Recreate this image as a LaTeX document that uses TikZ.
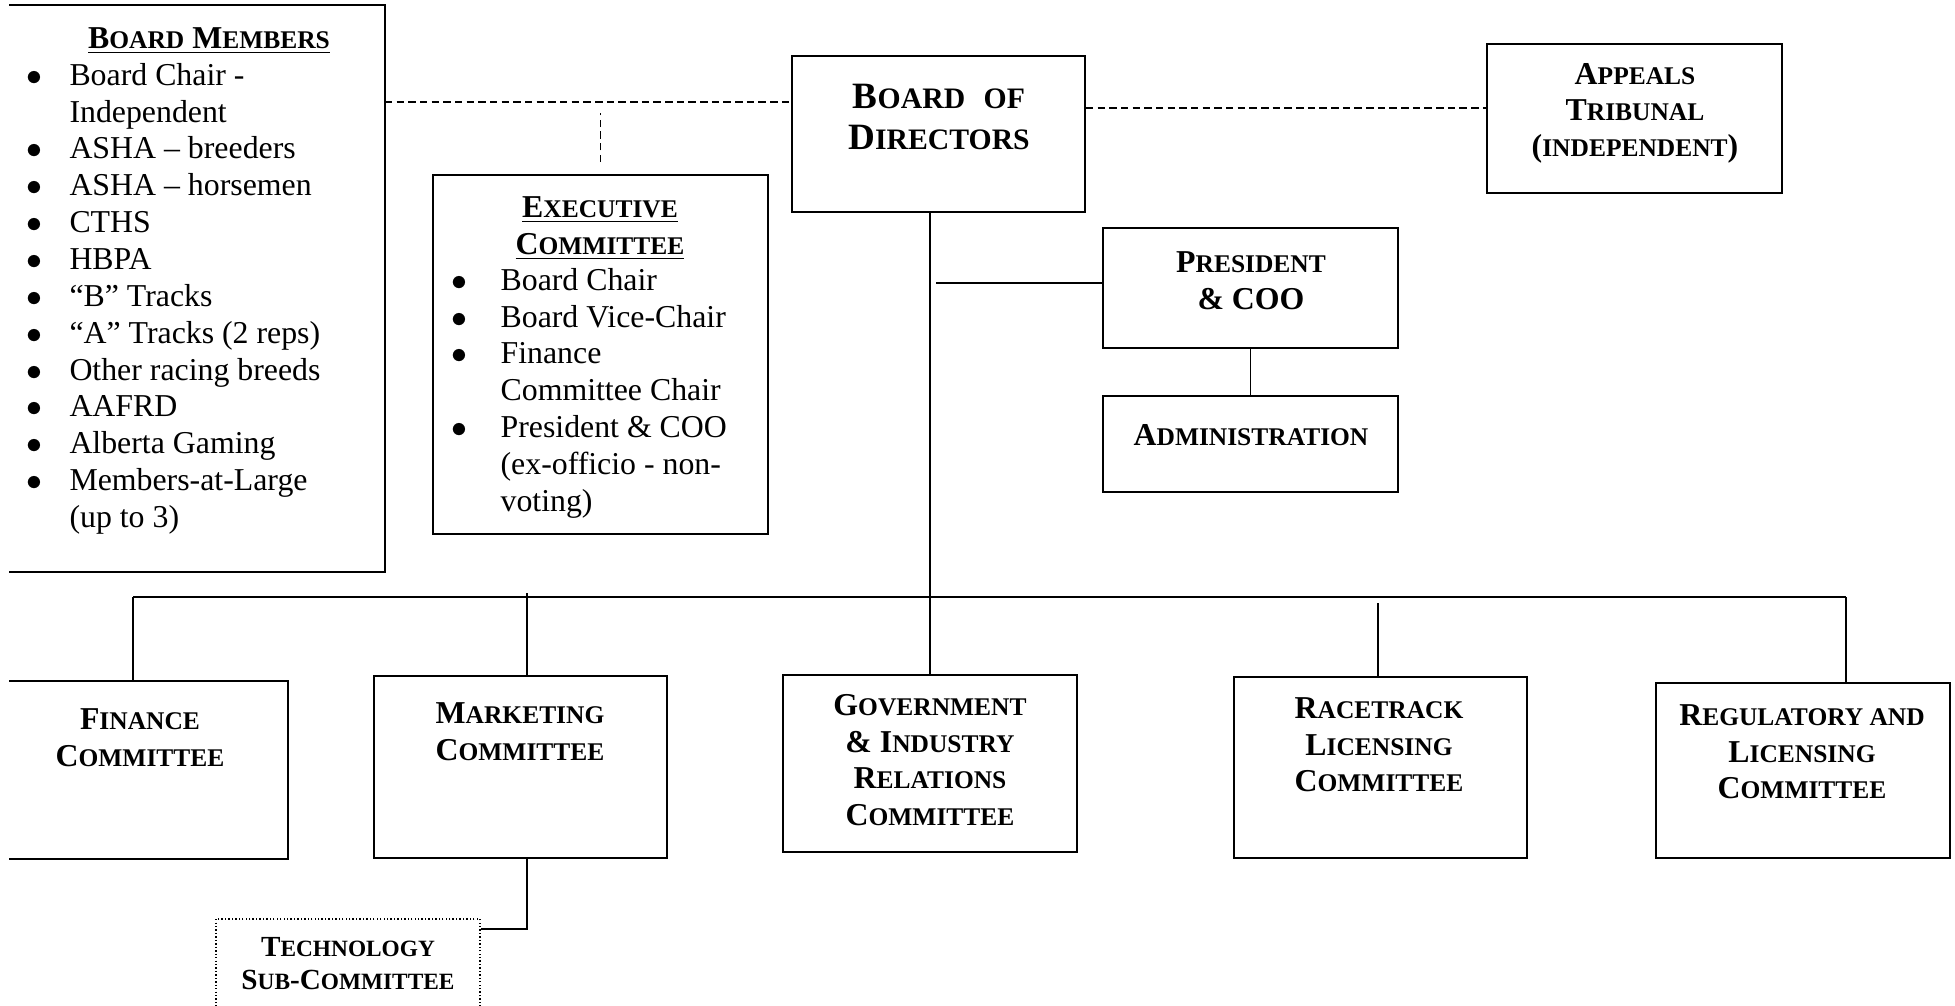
\documentclass[tikz,border=0pt]{standalone}
\usepackage{fontspec}
\setmainfont{Liberation Serif}

\makeatletter
\newcommand\lc[1]{{\fontsize{\strip@pt\dimexpr0.8\dimexpr\f@size pt\relax\relax}{\f@baselineskip}\selectfont#1}}
\makeatother
\newcommand\stk[1]{\begin{tabular}{@{}c@{}}#1\end{tabular}}
\newdimen\pxu \pxu=0.377pt

\begin{document}
\begin{tikzpicture}[x=0.377pt,y=-0.377pt,
    box/.style 2 args={draw,line width=0.75pt,inner sep=0pt,minimum width=#1*\pxu,minimum height=#2*\pxu},
    lbl/.style={inner sep=0pt,anchor=north,font=\fontsize{12}{13.9}\selectfont\bfseries},
    lst/.style={inner sep=0pt,anchor=north west,font=\fontsize{12}{13.9}\selectfont},
    wire/.style={line width=0.6pt},
    dashline/.style={line width=0.6pt,dash pattern=on 2.8pt off 1.6pt},
    dotbox/.style={line width=0.6pt,dash pattern=on 0.5pt off 0.8pt}]
\useasboundingbox (0,0) rectangle (1955,1005);

\node[box={374}{565},draw=none] (bm) at (197,288.5) {};
\draw[line width=0.75pt] (bm.north west) -- (bm.north east) -- (bm.south east) -- (bm.south west);
\node[lbl] (bmhead) at (209,21.8) {\stk{\underline{B\lc{OARD} M\lc{EMBERS}}}};
\node[lst] (bmlist) at (26,58.8) {\begin{tabular}{@{}p{16.2pt}@{}l@{}}
$\bullet$ & Board Chair - \\
 & Independent \\
$\bullet$ & ASHA -- breeders \\
$\bullet$ & ASHA -- horsemen \\
$\bullet$ & CTHS \\
$\bullet$ & HBPA \\
$\bullet$ & ``B'' Tracks \\
$\bullet$ & ``A'' Tracks (2 reps) \\
$\bullet$ & Other racing breeds \\
$\bullet$ & AAFRD \\
$\bullet$ & Alberta Gaming \\
$\bullet$ & Members-at-Large \\
 & (up to 3)
\end{tabular}};

\node[box={335}{359}] (exec) at (600.5,354.5) {};
\node[lbl] (exechead) at (600,190.8) {\stk{\underline{E\lc{XECUTIVE}}\\\underline{C\lc{OMMITTEE}}}};
\node[lst] (execlist) at (451,263.8) {\begin{tabular}{@{}p{18.5pt}@{}l@{}}
$\bullet$ & Board Chair \\
$\bullet$ & Board Vice-Chair \\
$\bullet$ & Finance \\
 & Committee Chair \\
$\bullet$ & President \& COO \\
 & (ex-officio - non- \\
 & voting)
\end{tabular}};

\node[box={293}{156}] (bod) at (938.5,134) {};
\node[lbl,font=\fontsize{14}{15.5}\selectfont\bfseries] (bodtxt) at (939,79.5) {\stk{B\lc{OARD}\ \ \lc{OF}\\D\lc{IRECTORS}}};

\node[box={295}{149}] (appeals) at (1634.5,118.5) {};
\node[lbl,font=\fontsize{12}{13.4}\selectfont\bfseries] (appealstxt) at (1635,59.5) {\stk{A\lc{PPEALS}\\T\lc{RIBUNAL}\\(\lc{INDEPENDENT})}};

\node[box={295}{120}] (pres) at (1250.5,288) {};
\node[lbl] (prestxt) at (1251,245.8) {\stk{P\lc{RESIDENT}\\\& COO}};

\node[box={295}{96}] (admin) at (1250.5,444) {};
\node[lbl] (admintxt) at (1251,418.8) {\stk{A\lc{DMINISTRATION}}};

\node[box={277}{176},draw=none] (fin) at (148.5,770) {};
\draw[line width=0.75pt] (fin.north west) -- (fin.north east) -- (fin.south east) -- (fin.south west);
\node[lbl] (fintxt) at (140,702.8) {\stk{F\lc{INANCE}\\C\lc{OMMITTEE}}};

\node[box={293}{182}] (mkt) at (520.5,767) {};
\node[lbl] (mkttxt) at (520,696.8) {\stk{M\lc{ARKETING}\\C\lc{OMMITTEE}}};

\node[box={294}{177}] (gov) at (930,763.5) {};
\node[lbl] (govtxt) at (930,688.8) {\stk{G\lc{OVERNMENT}\\\& I\lc{NDUSTRY}\\R\lc{ELATIONS}\\C\lc{OMMITTEE}}};

\node[box={293}{181}] (race) at (1380.5,767.5) {};
\node[lbl] (racetxt) at (1379,691.8) {\stk{R\lc{ACETRACK}\\L\lc{ICENSING}\\C\lc{OMMITTEE}}};

\node[box={294}{175}] (reg) at (1803,770.5) {};
\node[lbl] (regtxt) at (1802,698.8) {\stk{R\lc{EGULATORY AND}\\L\lc{ICENSING}\\C\lc{OMMITTEE}}};

\node[box={264}{96},dotbox] (tech) at (348,967) {};
\node[lbl,font=\fontsize{11}{12.7}\selectfont\bfseries] (techtxt) at (348,932.1) {\stk{T\lc{ECHNOLOGY}\\S\lc{UB}-C\lc{OMMITTEE}}};

\coordinate (dj) at (600,102);
\coordinate (tj) at (1300,108);
\coordinate (pj) at (936,283);
\coordinate (finT) at (133,597);
\coordinate (mkT) at (527,593);
\coordinate (rcT) at (1378,603);
\coordinate (rgT) at (1846,597);
\coordinate (tk) at (527,929);

\draw[dashline] (bm.east |- dj) -- (bod.west |- dj);
\draw[dashline,shorten <=4.5pt,shorten >=4.1pt] (exec.north) -- (exec.north |- dj);
\draw[dashline] (bod.east |- tj) -- (appeals.west |- tj);

\draw[wire] (bod.south -| gov.north) -- (gov.north);
\draw[wire] (pj) -- (pres.west |- pj);
\draw[wire] (pres) -- (admin);
\draw[wire] (finT) -- (rgT);
\draw[wire] (finT) -- (finT |- fin.north);
\draw[wire] (mkT) -- (mkT |- mkt.north);
\draw[wire] (rcT) -- (rcT |- race.north);
\draw[wire] (rgT) -- (rgT |- reg.north);
\draw[wire] (mkt.south -| tk) -- (tk) -- (tech.east |- tk);
\end{tikzpicture}
\end{document}
